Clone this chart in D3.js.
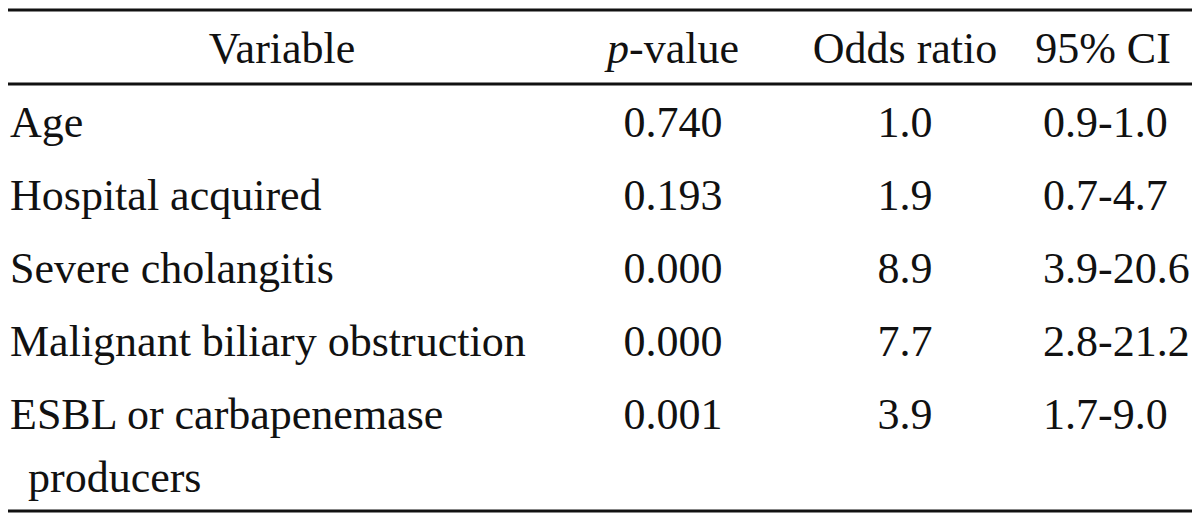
<!DOCTYPE html>
<html>
<head>
<meta charset="utf-8">
<script src="https://cdn.jsdelivr.net/npm/d3@7"></script>
<style>
  body { margin: 0; background: #fff; }
</style>
</head>
<body>
<div id="chart"></div>
<script>
// table content
var headers = ["Variable", "p-value", "Odds ratio", "95% CI"];
var variables = [
  ["Age"],
  ["Hospital acquired"],
  ["Severe cholangitis"],
  ["Malignant biliary obstruction"],
  ["ESBL or carbapenemase", "producers"]
];
var pValues = ["0.740", "0.193", "0.000", "0.000", "0.001"];
var oddsRatios = [1.0, 1.9, 8.9, 7.7, 3.9];
var ciLow = [0.9, 0.7, 3.9, 2.8, 1.7];
var ciHigh = [1.0, 4.7, 20.6, 21.2, 9.0];

var w = 1200, h = 523;
var fontSize = 44;
var fmt = d3.format(".1f");

var svg = d3.select("#chart")
  .append("svg")
  .attr("width", w)
  .attr("height", h);

// serif face set directly on each text
function serif(sel) {
  return sel.style("font-family", "'Liberation Serif'")
    .style("font-size", fontSize + "px")
    .style("fill", "#111");
}

// row baselines
var y = d3.scaleLinear()
  .domain([0, variables.length - 1])
  .range([137, 429]);
var headerY = 63;
var wrapGap = 63;

// column positions
var left = 8, right = 1192;
var colVar = 282, colP = 673, colOR = 905, colCI = 1103, ciLeft = 1043;

// rules
var rules = [10, 84, 511];
svg.selectAll("line.rule")
  .data(rules)
  .enter()
  .append("line")
  .attr("class", "rule")
  .attr("x1", left)
  .attr("x2", right)
  .attr("y1", function(d) { return d; })
  .attr("y2", function(d) { return d; })
  .attr("stroke", "#111")
  .attr("stroke-width", 3);

// header
var head = svg.append("g");
head.append("text").attr("x", colVar).attr("y", headerY)
  .attr("text-anchor", "middle").text(headers[0]).call(serif);
var pHead = head.append("text").attr("x", colP).attr("y", headerY)
  .attr("text-anchor", "middle").call(serif);
pHead.append("tspan").style("font-style", "italic").text("p");
pHead.append("tspan").text(headers[1].slice(1));
head.append("text").attr("x", colOR).attr("y", headerY)
  .attr("text-anchor", "middle").text(headers[2]).call(serif);
head.append("text").attr("x", colCI).attr("y", headerY)
  .attr("text-anchor", "middle").text(headers[3]).call(serif);

// body rows
var rows = svg.selectAll("g.row")
  .data(d3.range(variables.length))
  .enter()
  .append("g")
  .attr("class", "row")
  .attr("transform", function(i) { return "translate(0," + y(i) + ")"; });

rows.append("text")
  .call(serif)
  .each(function(i) {
    var t = d3.select(this);
    variables[i].forEach(function(line, k) {
      t.append("tspan")
        .attr("x", k === 0 ? 10 : 28)
        .attr("y", k * wrapGap)
        .text(line);
    });
  });

rows.append("text")
  .attr("x", colP)
  .attr("text-anchor", "middle")
  .call(serif)
  .text(function(i) { return pValues[i]; });

rows.append("text")
  .attr("x", colOR)
  .attr("text-anchor", "middle")
  .call(serif)
  .text(function(i) { return fmt(oddsRatios[i]); });

rows.append("text")
  .attr("x", ciLeft)
  .call(serif)
  .text(function(i) { return fmt(ciLow[i]) + "-" + fmt(ciHigh[i]); });
</script>
</body>
</html>
